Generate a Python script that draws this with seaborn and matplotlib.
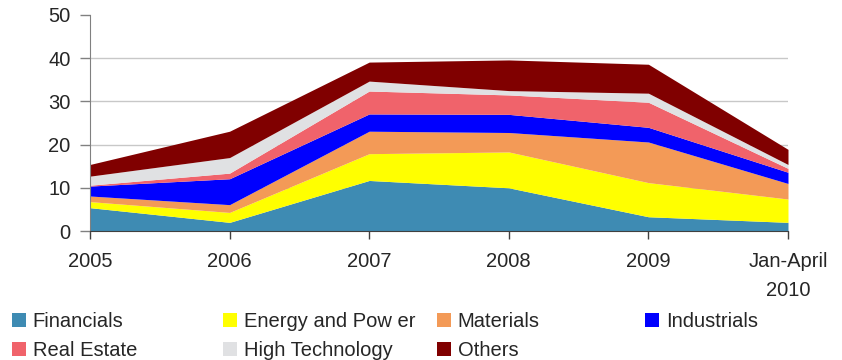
import matplotlib
matplotlib.use("Agg")
import matplotlib.pyplot as plt
import seaborn as sns
import numpy as np
from matplotlib.patches import Patch

categories = ["2005", "2006", "2007", "2008", "2009", "Jan-April\n2010"]
financials = [5.4, 2.0, 11.7, 10.0, 3.3, 2.0]
energy = [1.4, 2.3, 6.2, 8.3, 7.9, 5.4]
materials = [1.3, 1.8, 5.2, 4.5, 9.4, 3.6]
industrials = [2.3, 6.0, 4.0, 4.2, 3.4, 2.6]
real_estate = [0.2, 1.3, 5.3, 4.5, 5.8, 0.9]
high_tech = [2.1, 3.6, 2.3, 1.0, 2.1, 0.9]
others = [2.7, 6.1, 4.4, 7.1, 6.7, 3.5]

series_names = ["Financials", "Energy and Pow er", "Materials", "Industrials",
                "Real Estate", "High Technology", "Others"]
series = [financials, energy, materials, industrials, real_estate, high_tech, others]
colors = ["#3E8BB3", "#FFFF00", "#F39A57", "#0000FF", "#F0636B", "#E0E1E3", "#800000"]

sns.set_style("white")
plt.rcParams['font.family'] = ['Liberation Sans', 'DejaVu Sans']

FS = 14.5
fig = plt.figure(figsize=(8.42, 3.6), dpi=100)
ax = fig.add_axes([90/842, 1-231/360, (788-90)/842, (231-15)/360])

x = np.arange(len(categories))
ax.stackplot(x, *series, colors=colors, linewidth=0, zorder=2)

ax.set_xlim(0, len(categories) - 1)
ax.set_ylim(0, 50)
ax.set_yticks([0, 10, 20, 30, 40, 50])
ax.set_xticks(x)
ax.set_xticklabels(categories, fontsize=FS, linespacing=1.7)
ax.tick_params(axis='y', labelsize=FS, direction='out', length=7, width=1,
               color='#808080', left=True, pad=7)
ax.tick_params(axis='x', direction='out', length=6, width=1, color='#404040',
               bottom=True, pad=9)
for yv in [10, 20, 30, 40]:
    ax.axhline(yv, color='#C8C8C8', linewidth=1, zorder=1)
for s in ['top', 'right']:
    ax.spines[s].set_visible(False)
ax.spines['left'].set_color('#808080')
ax.spines['bottom'].set_color('#404040')
ax.spines['left'].set_zorder(3)
ax.spines['bottom'].set_zorder(3)

# legend columns
col_x = [12/842, 223/842, 437/842, 645/842]
groups = [[0, 4], [1, 5], [2, 6], [3]]
for cx, g in zip(col_x, groups):
    handles = [Patch(facecolor=colors[i], edgecolor='none') for i in g]
    labels = [series_names[i] for i in g]
    fig.legend(handles, labels, loc='upper left', bbox_to_anchor=(cx, 1-312/360),
               frameon=False, fontsize=FS, handlelength=0.7, handleheight=0.7,
               handletextpad=0.33, labelspacing=0.52, borderaxespad=0, borderpad=0)

fig.savefig("out.png", dpi=100)
